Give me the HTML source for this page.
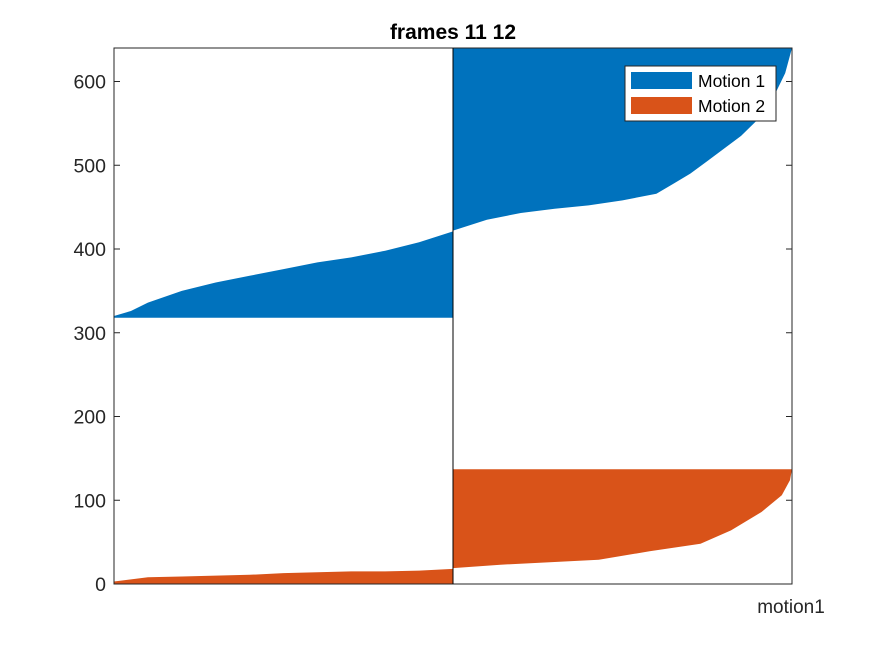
<!DOCTYPE html>
<html><head><meta charset="utf-8"><style>
body{margin:0;background:#fff;}
svg text{font-family:"Liberation Sans",Arial,sans-serif;}
</style></head><body>
<svg id="chart" width="875" height="656" xmlns="http://www.w3.org/2000/svg">
<rect width="875" height="656" fill="#fff"/>
<g id="marks"></g>
<g id="axes"></g>
<text x="453" y="39" text-anchor="middle" font-size="21" font-weight="bold" fill="#000">frames 11 12</text>
<text x="791" y="613" text-anchor="middle" font-size="19" fill="#262626">motion1</text>
<g>
<rect x="625" y="66" width="151" height="55" fill="#fff" stroke="#262626" stroke-width="1"/>
<g><rect x="631" y="72" width="61" height="17" fill="#0072BD"/><text x="698" y="87" font-size="17.5" fill="#000">Motion 1</text></g>
<g><rect x="631" y="97" width="61" height="17" fill="#D95319"/><text x="698" y="112" font-size="17.5" fill="#000">Motion 2</text></g>
</g>
</svg>
<script>
const yTicks=[0,100,200,300,400,500,600];
const leftBlueBase=318;
const leftBlueFrac=[0,0.05,0.1,0.2,0.3,0.4,0.5,0.6,0.7,0.8,0.9,1];
const leftBlueTop=[320,326,336,350,360,368,376,384,390,398,408,421];
const rightBlueTopVal=640;
const rightBlueFrac=[0,0.1,0.2,0.3,0.4,0.5,0.6,0.65,0.7,0.75,0.8,0.85,0.9,0.95,0.98,1];
const rightBlueLow=[422,435,443,448,452,458,466,478,490,505,520,535,555,585,610,640];
const leftOrangeFrac=[0,0.1,0.2,0.3,0.4,0.5,0.6,0.7,0.8,0.9,1];
const leftOrangeTop=[3,8,9,10,11,13,14,15,15,16,18];
const rightOrangeTopVal=137;
const rightOrangeFrac=[0,0.14,0.43,0.58,0.73,0.82,0.91,0.97,0.994,1];
const rightOrangeLow=[19,23,29,39,48,64,86,106,124,137];

const X0=114,X1=792,XM=453,Y0=584,Y1=48,YMAX=640;
const ys=v=>Y0-(v/YMAX)*(Y0-Y1);
const NS="http://www.w3.org/2000/svg";
const marks=document.getElementById('marks'),axes=document.getElementById('axes');
function poly(xa,xb,fr,top,bottomFn,color,name){
  let pts=[];
  fr.forEach((f,i)=>pts.push([xa+f*(xb-xa),ys(top[i])]));
  let back=[];
  fr.slice().reverse().forEach((f,j)=>{const i=fr.length-1-j;back.push([xa+f*(xb-xa),ys(bottomFn(i))]);});
  const p=document.createElementNS(NS,'polygon');
  p.setAttribute('points',pts.concat(back).map(a=>a[0].toFixed(1)+','+a[1].toFixed(1)).join(' '));
  p.setAttribute('fill',color);
  
  
  marks.appendChild(p);
}
poly(X0,XM,leftBlueFrac,leftBlueTop,()=>leftBlueBase,'#0072BD','area-motion1-left');
poly(XM,X1,rightBlueFrac,rightBlueLow,()=>rightBlueTopVal,'#0072BD','area-motion1-right');
poly(X0,XM,leftOrangeFrac,leftOrangeTop,()=>0,'#D95319','area-motion2-left');
poly(XM,X1,rightOrangeFrac,rightOrangeLow,()=>rightOrangeTopVal,'#D95319','area-motion2-right');

const box=document.createElementNS(NS,'rect');
box.setAttribute('x',X0);box.setAttribute('y',Y1);box.setAttribute('width',X1-X0);box.setAttribute('height',Y0-Y1);
box.setAttribute('fill','none');box.setAttribute('stroke','#262626');box.setAttribute('stroke-width','1');


axes.appendChild(box);
const mid=document.createElementNS(NS,'line');
mid.setAttribute('x1',XM);mid.setAttribute('x2',XM);mid.setAttribute('y1',Y1);mid.setAttribute('y2',Y0);
mid.setAttribute('stroke','#000');mid.setAttribute('stroke-width','1');


axes.appendChild(mid);
yTicks.forEach(t=>{
  const y=ys(t);
  [[X0,X0+6],[X1-6,X1]].forEach(([a,b])=>{
    const l=document.createElementNS(NS,'line');
    l.setAttribute('x1',a);l.setAttribute('x2',b);l.setAttribute('y1',y);l.setAttribute('y2',y);
    l.setAttribute('stroke','#262626');
    
    
    axes.appendChild(l);
  });
  const tx=document.createElementNS(NS,'text');
  tx.setAttribute('x',106);tx.setAttribute('y',y+7);tx.setAttribute('text-anchor','end');
  tx.setAttribute('font-size','19.5');tx.setAttribute('fill','#262626');
  tx.textContent=t;
  
  
  axes.appendChild(tx);
});
</script>
</body></html>
